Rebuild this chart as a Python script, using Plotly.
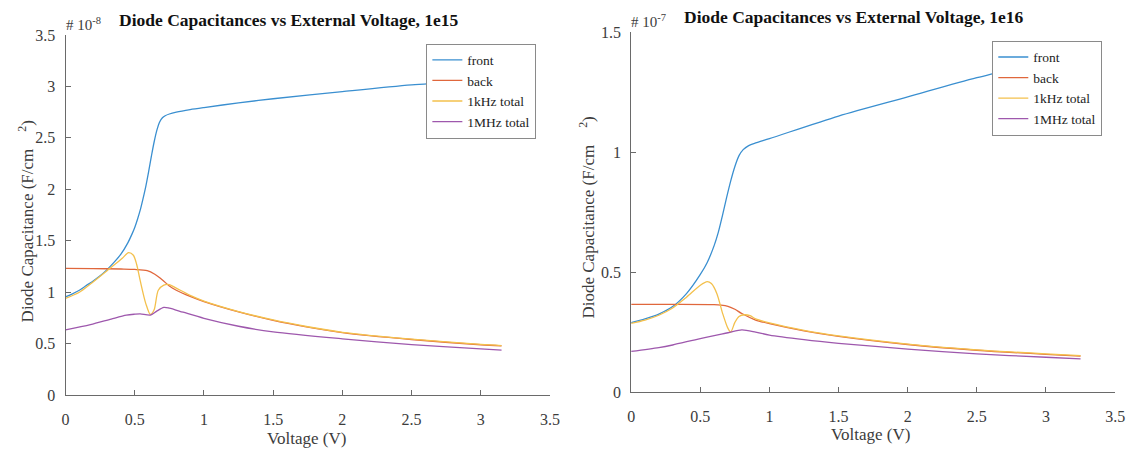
import plotly.graph_objects as go

# ---------------- data (values in units of the axis multiplier) ----------------
# Left panel: 1e15, y in 1e-8 F/cm^2
v15_front = [0, 0.05, 0.1, 0.15, 0.2, 0.25, 0.3, 0.35, 0.4, 0.45, 0.48, 0.5, 0.52, 0.54, 0.56, 0.58, 0.6, 0.62, 0.64, 0.66, 0.68, 0.70, 0.72, 0.75, 0.8, 0.9, 1.0, 1.25, 1.5, 2.0, 2.5, 3.0, 3.15]
c15_front = [0.955, 0.985, 1.02, 1.065, 1.11, 1.16, 1.22, 1.29, 1.37, 1.48, 1.565, 1.63, 1.71, 1.80, 1.91, 2.03, 2.17, 2.32, 2.46, 2.575, 2.655, 2.695, 2.715, 2.732, 2.75, 2.775, 2.795, 2.84, 2.88, 2.95, 3.015, 3.06, 3.075]

v15_back = [0, 0.2, 0.4, 0.5, 0.59, 0.645, 0.70, 0.75, 0.80, 0.9, 1.0, 1.25, 1.5, 1.75, 2.0, 2.5, 3.0, 3.15]
c15_back = [1.232, 1.23, 1.226, 1.222, 1.21, 1.175, 1.12, 1.06, 1.02, 0.96, 0.91, 0.81, 0.728, 0.662, 0.608, 0.541, 0.49, 0.479]

v15_1k = [0, 0.1, 0.18, 0.3, 0.41, 0.455, 0.49, 0.514, 0.54, 0.58, 0.613, 0.64, 0.67, 0.71, 0.75, 0.80, 0.9, 1.0, 1.25, 1.5, 1.75, 2.0, 2.5, 3.0, 3.15]
c15_1k = [0.94, 1.0, 1.08, 1.21, 1.33, 1.385, 1.36, 1.27, 1.11, 0.89, 0.784, 0.83, 1.02, 1.07, 1.075, 1.04, 0.97, 0.915, 0.813, 0.731, 0.665, 0.611, 0.545, 0.494, 0.482]

v15_1M = [0, 0.18, 0.33, 0.44, 0.5, 0.54, 0.613, 0.657, 0.71, 0.75, 0.85, 1.0, 1.25, 1.5, 2.0, 2.5, 3.0, 3.15]
c15_1M = [0.635, 0.685, 0.74, 0.778, 0.787, 0.79, 0.778, 0.815, 0.853, 0.846, 0.806, 0.747, 0.67, 0.615, 0.548, 0.492, 0.45, 0.437]

# Right panel: 1e16, y in 1e-7 F/cm^2
v16_front = [0, 0.1, 0.2, 0.3, 0.4, 0.5, 0.55, 0.6, 0.63, 0.66, 0.69, 0.72, 0.75, 0.78, 0.81, 0.85, 0.9, 1.0, 1.5, 2.0, 2.5, 3.0, 3.25]
c16_front = [0.289, 0.305, 0.325, 0.356, 0.41, 0.49, 0.54, 0.61, 0.665, 0.735, 0.81, 0.88, 0.94, 0.985, 1.01, 1.027, 1.038, 1.056, 1.15, 1.23, 1.31, 1.38, 1.42]

v16_back = [0, 0.3, 0.6, 0.65, 0.7, 0.75, 0.8, 0.9, 1.0, 1.25, 1.5, 2.0, 2.5, 3.0, 3.25]
c16_back = [0.365, 0.365, 0.364, 0.362, 0.357, 0.345, 0.327, 0.30, 0.285, 0.255, 0.232, 0.198, 0.174, 0.157, 0.15]

v16_1k = [0, 0.1, 0.2, 0.3, 0.4, 0.5, 0.55, 0.58, 0.62, 0.66, 0.7, 0.72, 0.75, 0.78, 0.82, 0.86, 0.9, 1.0, 1.25, 1.5, 2.0, 2.5, 3.0, 3.25]
c16_1k = [0.286, 0.30, 0.32, 0.35, 0.395, 0.445, 0.46, 0.452, 0.41, 0.33, 0.265, 0.25, 0.29, 0.315, 0.322, 0.318, 0.305, 0.288, 0.257, 0.234, 0.2, 0.176, 0.159, 0.152]

v16_1M = [0, 0.2, 0.3, 0.5, 0.7, 0.8, 0.9, 1.0, 1.25, 1.5, 2.0, 2.5, 3.0, 3.25]
c16_1M = [0.169, 0.185, 0.196, 0.223, 0.247, 0.259, 0.25, 0.237, 0.218, 0.203, 0.179, 0.159, 0.145, 0.138]

series_names = ["front", "back", "1kHz total", "1MHz total"]
series_colors = ["#3a8fd0", "#e0673c", "#f3c04c", "#9e58ad"]

titles = ["Diode Capacitances vs External Voltage, 1e15", "Diode Capacitances vs External Voltage, 1e16"]
multipliers = ["# 10<sup>-8</sup>", "# 10<sup>-7</sup>"]
x_ticks = [0, 0.5, 1, 1.5, 2, 2.5, 3, 3.5]
x_ticklabels = ["0", "0.5", "1", "1.5", "2", "2.5", "3", "3.5"]
y15_ticks = [0, 0.5, 1, 1.5, 2, 2.5, 3, 3.5]
y15_ticklabels = ["0", "0.5", "1", "1.5", "2", "2.5", "3", "3.5"]
y16_ticks = [0, 0.5, 1, 1.5]
y16_ticklabels = ["0", "0.5", "1", "1.5"]

# ---------------- figure ----------------
FONT = "Liberation Serif"
AX = "#6a6a6a"
TXT = "#3c3c3c"
W, H = 1136, 453

fig = go.Figure()

left = [(v15_front, c15_front), (v15_back, c15_back), (v15_1k, c15_1k), (v15_1M, c15_1M)]
right = [(v16_front, c16_front), (v16_back, c16_back), (v16_1k, c16_1k), (v16_1M, c16_1M)]

for i, (xv, yv) in enumerate(left):
    fig.add_trace(go.Scatter(x=xv, y=yv, mode="lines", name=series_names[i],
                             line=dict(color=series_colors[i], width=1.3, shape="spline", smoothing=0.8),
                             xaxis="x", yaxis="y", legend="legend"))
for i, (xv, yv) in enumerate(right):
    fig.add_trace(go.Scatter(x=xv, y=yv, mode="lines", name=series_names[i],
                             line=dict(color=series_colors[i], width=1.3, shape="spline", smoothing=0.8),
                             xaxis="x2", yaxis="y2", legend="legend2"))

def px_x(p):
    return p / W

def px_y(p):
    return 1 - p / H

axis_common = dict(showgrid=False, zeroline=False, showline=True, linecolor=AX, linewidth=1,
                   ticks="inside", ticklen=5, tickcolor=AX, tickwidth=1, mirror=False,
                   tickfont=dict(family=FONT, size=16, color=TXT))

legend_common = dict(xanchor="right", yanchor="top", bgcolor="white", bordercolor="#8a8a8a", borderwidth=1,
                     font=dict(family=FONT, size=13.5, color="#222222"), tracegroupgap=0, itemwidth=30)

fig.update_layout(
    width=W, height=H,
    margin=dict(l=0, r=0, t=0, b=0),
    paper_bgcolor="white", plot_bgcolor="white",
    font=dict(family=FONT, color=TXT),
    xaxis=dict(domain=[px_x(62.3), px_x(552.8)], range=[0, 3.5], tickvals=x_ticks, ticktext=x_ticklabels,
               anchor="y", ticklabelstandoff=10, **axis_common),
    yaxis=dict(domain=[px_y(402.3), px_y(28)], range=[0, 3.5], tickvals=y15_ticks, ticktext=y15_ticklabels,
               anchor="x", ticklabelstandoff=6, **axis_common),
    xaxis2=dict(domain=[px_x(635), px_x(1125)], range=[0, 3.5], tickvals=x_ticks, ticktext=x_ticklabels,
                anchor="y2", ticklabelstandoff=10, **axis_common),
    yaxis2=dict(domain=[px_y(399), px_y(25)], range=[0, 1.5], tickvals=y16_ticks, ticktext=y16_ticklabels,
                anchor="x2", ticklabelstandoff=6, **axis_common),
    legend=dict(x=px_x(539), y=px_y(37), **legend_common),
    legend2=dict(x=px_x(1112), y=px_y(34), **legend_common),
    showlegend=True,
)

ann = []
# titles
ann.append(dict(text="<b>" + titles[0] + "</b>", x=px_x(289), y=px_y(12), xref="paper", yref="paper",
                showarrow=False, font=dict(family=FONT, size=17.5, color="#111111"), xanchor="center", yanchor="middle"))
ann.append(dict(text="<b>" + titles[1] + "</b>", x=px_x(861), y=px_y(9), xref="paper", yref="paper",
                showarrow=False, font=dict(family=FONT, size=17.5, color="#111111"), xanchor="center", yanchor="middle"))
# multipliers
ann.append(dict(text=multipliers[0], x=px_x(61), y=px_y(17), xref="paper", yref="paper", showarrow=False,
                font=dict(family=FONT, size=15, color=TXT), xanchor="left", yanchor="middle"))
ann.append(dict(text=multipliers[1], x=px_x(633), y=px_y(14), xref="paper", yref="paper", showarrow=False,
                font=dict(family=FONT, size=15, color=TXT), xanchor="left", yanchor="middle"))
# x axis titles
ann.append(dict(text="Voltage (V)", x=px_x(306), y=px_y(447), xref="paper", yref="paper", showarrow=False,
                font=dict(family=FONT, size=17, color=TXT), xanchor="center", yanchor="middle"))
ann.append(dict(text="Voltage (V)", x=px_x(877), y=px_y(443), xref="paper", yref="paper", showarrow=False,
                font=dict(family=FONT, size=17, color=TXT), xanchor="center", yanchor="middle"))
# y axis titles
ylab = "Diode Capacitance (F/cm\u2002\u2002<sup>2</sup>)"
ann.append(dict(text=ylab, x=px_x(22), y=px_y(222), xref="paper", yref="paper", showarrow=False, textangle=-90,
                font=dict(family=FONT, size=17, color=TXT), xanchor="center", yanchor="middle"))
ann.append(dict(text=ylab, x=px_x(590), y=px_y(218), xref="paper", yref="paper", showarrow=False, textangle=-90,
                font=dict(family=FONT, size=17, color=TXT), xanchor="center", yanchor="middle"))
fig.update_layout(annotations=ann)

fig.write_html("out.html")
